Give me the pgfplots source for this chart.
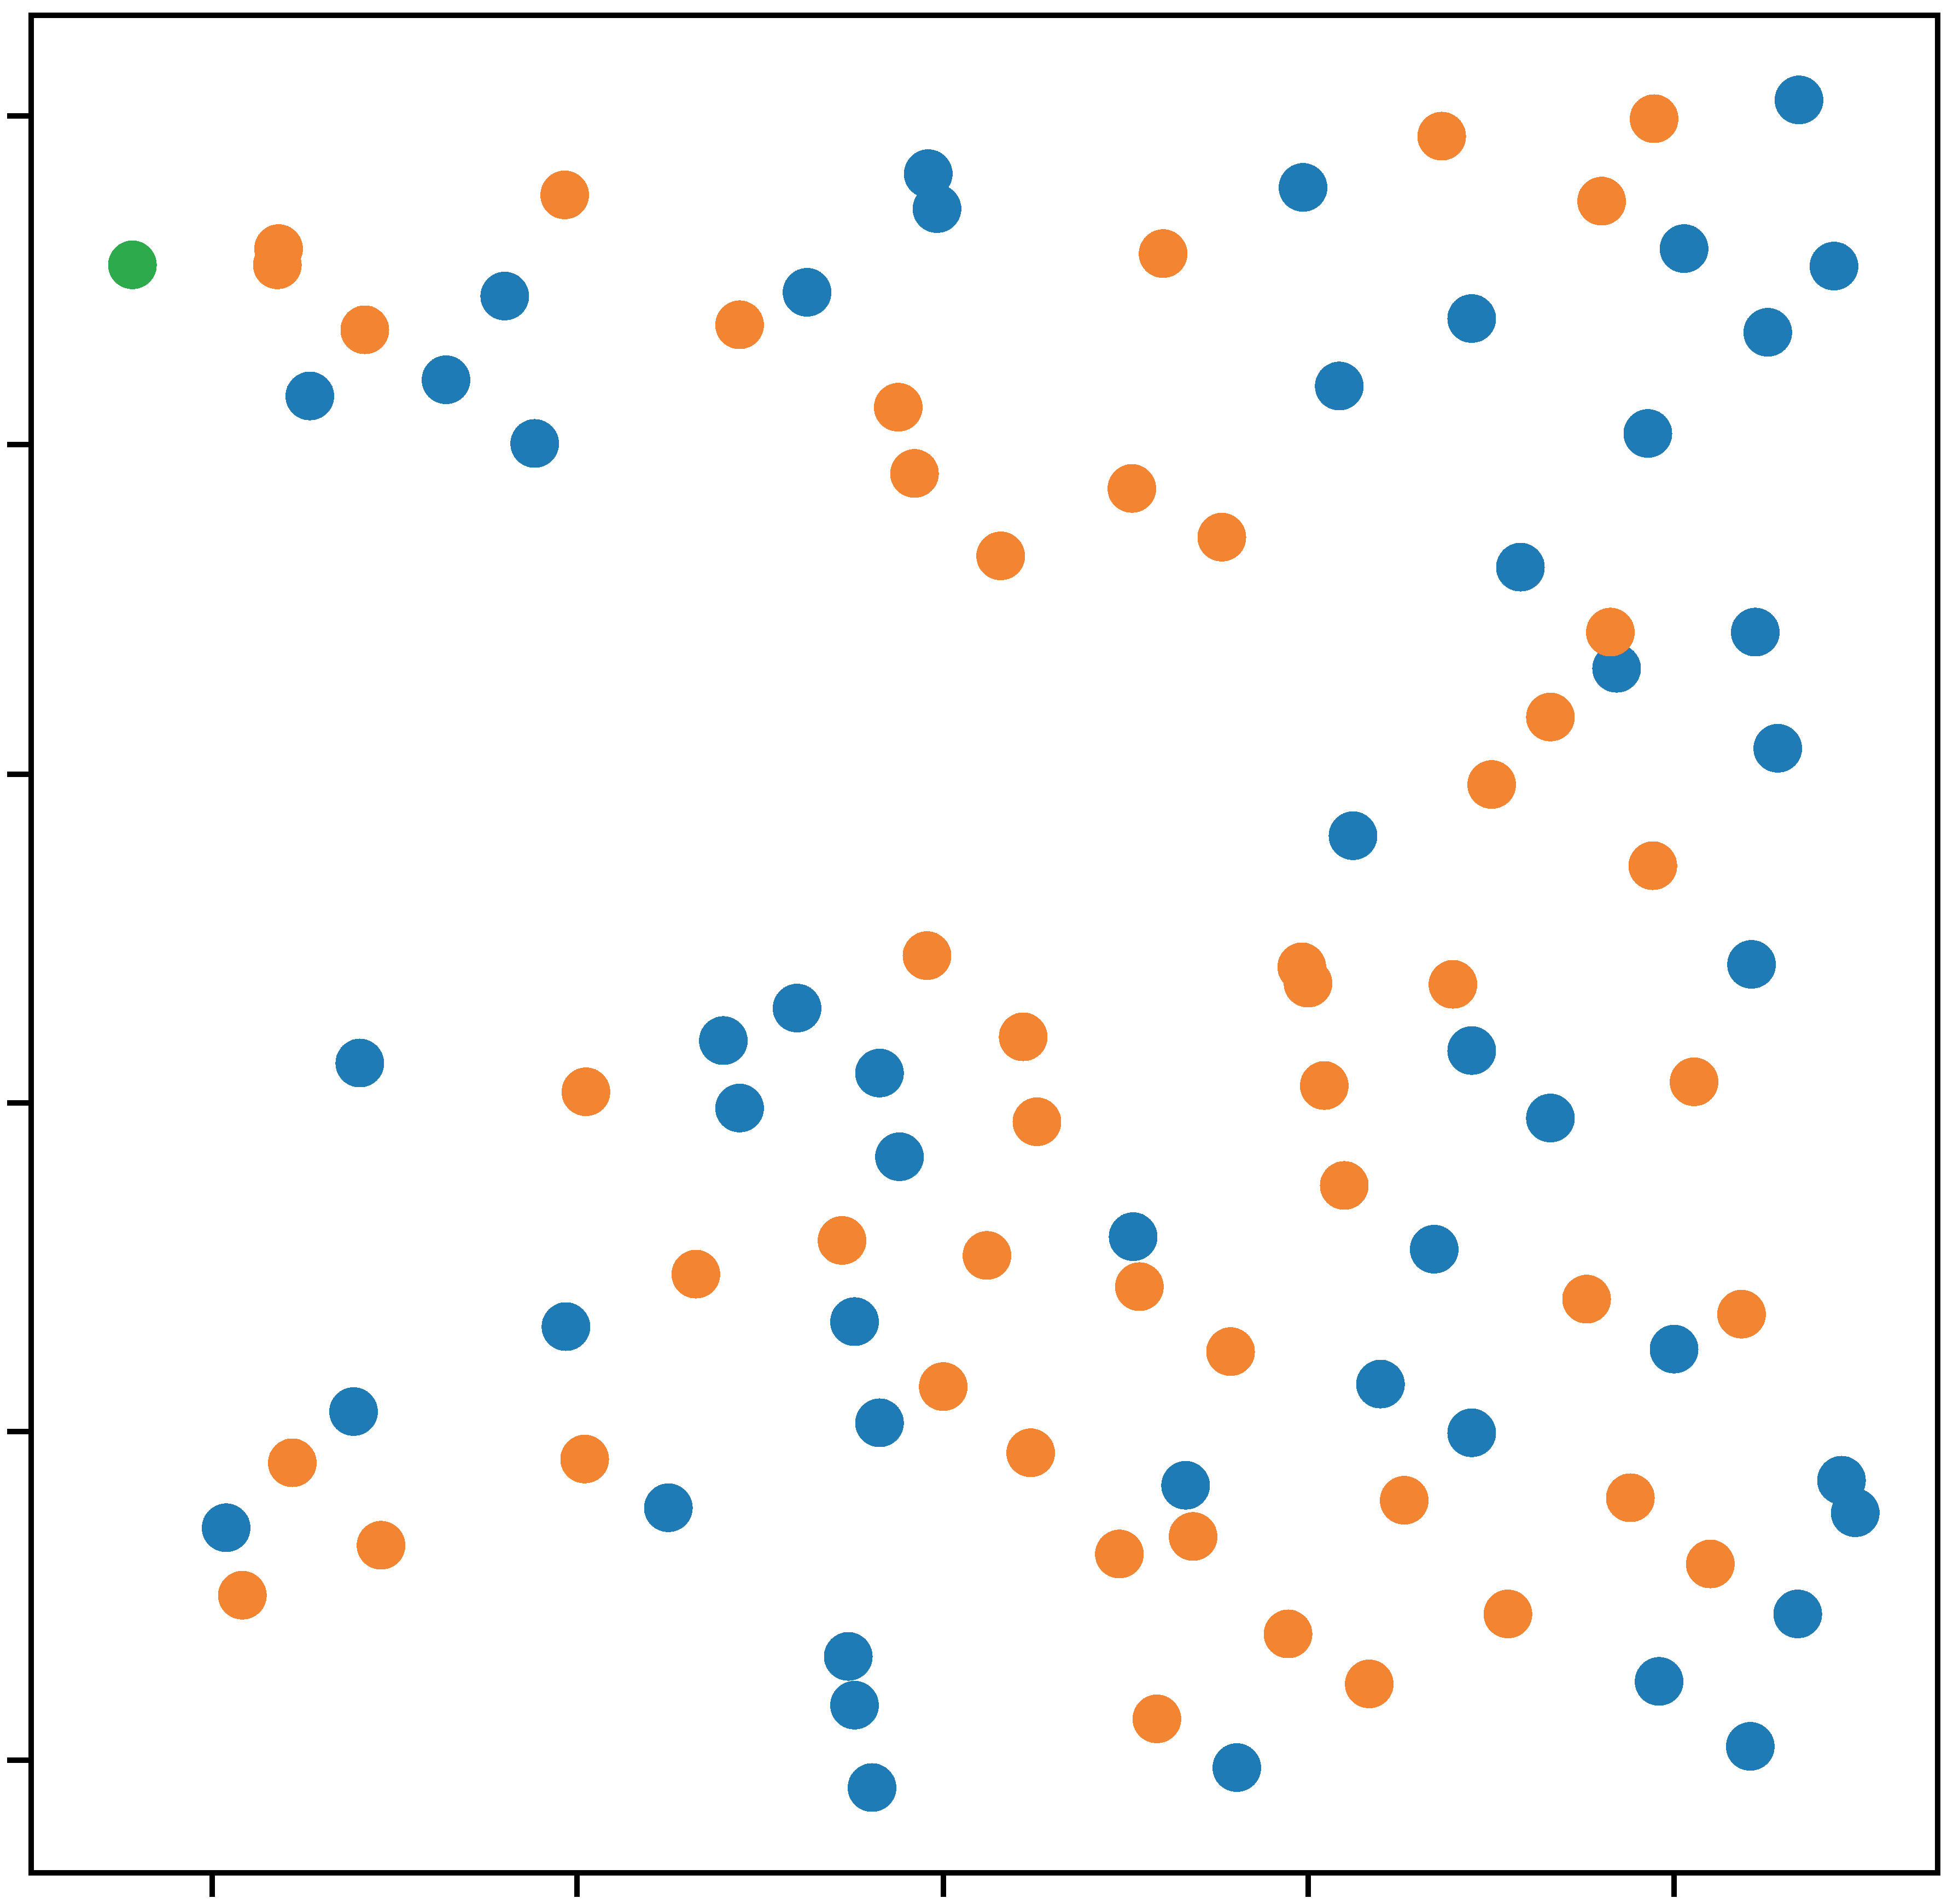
\documentclass[border=0pt]{standalone}
\usepackage{pgfplots}
\pgfplotsset{compat=1.18}
\definecolor{cblue}{HTML}{1F7BB6}
\definecolor{corange}{HTML}{F38532}
\definecolor{cgreen}{HTML}{2DAA4B}

\begin{document}
\begin{tikzpicture}
\begin{axis}[
  scale only axis, width=17.43cm, height=16.985cm,
  xmin=24.95, xmax=1551, ymin=12.3, ymax=1499.3, y dir=reverse,
  xtick={170,462,755,1047,1340}, ytick={93,356,620,883,1146,1409},
  xticklabels={}, yticklabels={},
  xtick pos=bottom, ytick pos=left, tick align=outside,
  major tick length=0.22cm,
  tick style={line width=1.42pt, black},
  axis line style={line width=1.42pt, black},
  clip=false,
  dots/.style={only marks, mark=*, mark size=0.22cm, color=#1,
    mark options={line width=0pt}},
]
% blue
\addplot[dots=cblue] table {
x y
248 317
357 304
404 237
428 355
646 234
743 139
750 167
1043 150
1072 309
1178 255
1217 454
1294 535
1319 347
1348 199
1415 266
1440 80
1468 213
1405 506
1423 599
1083 669
1402 772
288 851
579 833
638 807
592 887
704 859
720 926
1178 841
1241 895
907 990
1148 1000
453 1062
684 1058
704 1139
283 1130
181 1223
535 1207
949 1189
1105 1108
1178 1147
1340 1080
1474 1185
1485 1211
1439 1292
1328 1346
1401 1398
679 1326
684 1365
698 1431
990 1415
};
% orange
\addplot[dots=corange] table {
x y
223 199
222 212
292 264
452 156
592 260
719 326
732 379
801 445
931 203
906 391
978 430
1154 109
1324 95
1282 161
1289 506
1241 574
1194 628
1323 693
742 765
819 830
830 898
1042 774
1047 787
1163 788
1060 869
1356 866
469 874
1076 949
674 993
557 1020
790 1005
912 1030
985 1082
755 1110
1270 1040
1394 1052
234 1171
468 1168
305 1237
194 1277
825 1163
896 1244
955 1230
1124 1201
1305 1199
1369 1252
1207 1292
1031 1308
1096 1348
926 1376
};
% green
\addplot[dots=cgreen] table {
x y
106 212
};
\end{axis}
\pgfresetboundingbox
\path ([xshift=-0.285cm, yshift=-0.285cm]current axis.south west) rectangle ([xshift=0.195cm, yshift=0.14cm]current axis.north east);
\end{tikzpicture}
\end{document}
